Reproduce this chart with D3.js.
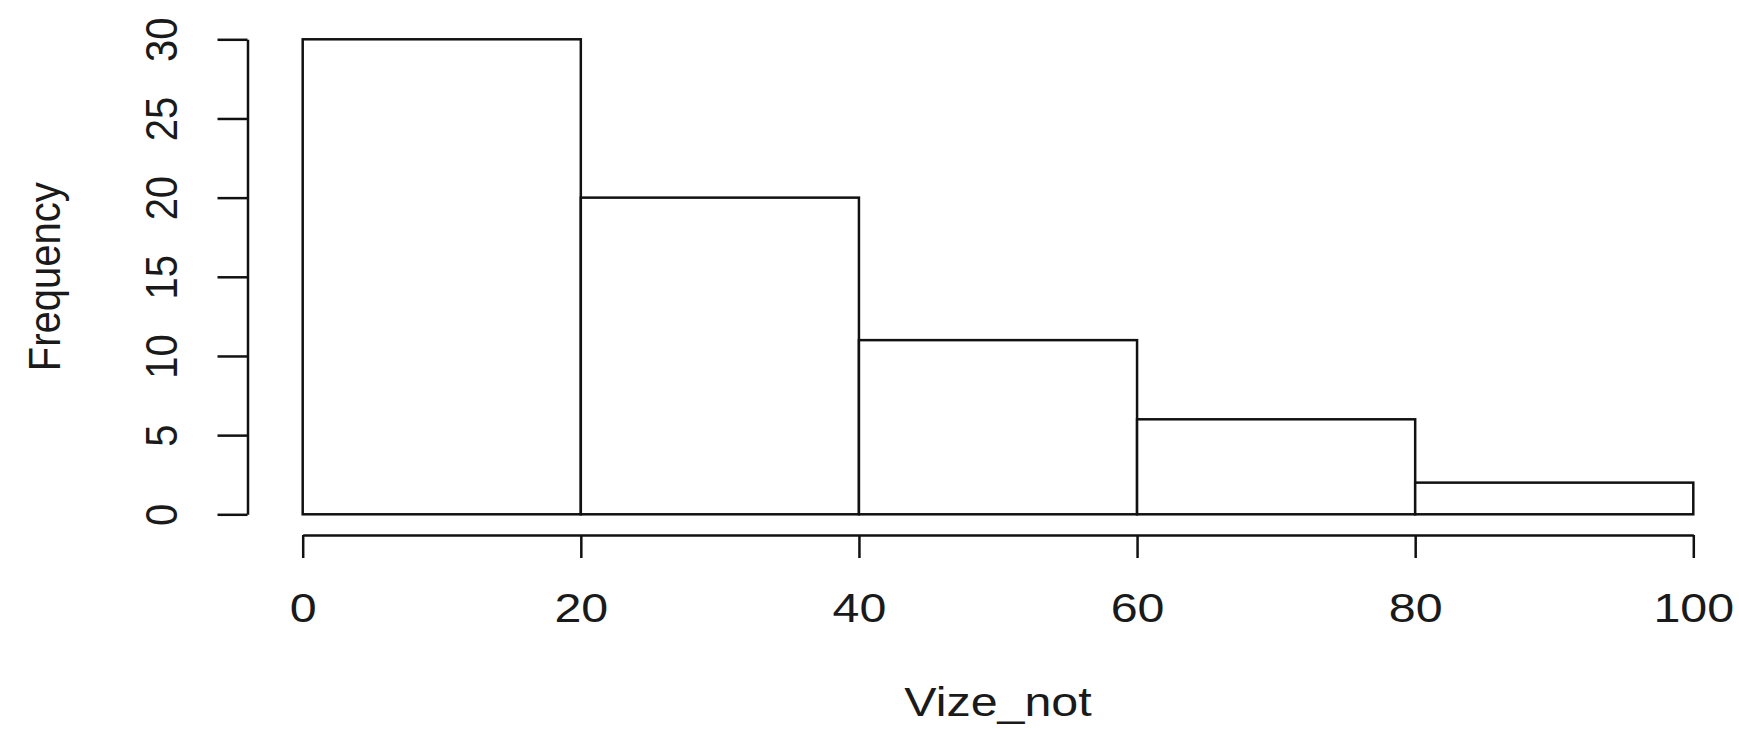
<!DOCTYPE html>
<html>
<head>
<meta charset="utf-8">
<script src="https://cdn.jsdelivr.net/npm/d3@7"></script>
<style>
  body { margin: 0; background: #fff; }
  text { font-family: "Liberation Sans", Arial, sans-serif; fill: #1a1a1a; }
</style>
</head>
<body>
<div id="area"></div>
<script>
// histogram of Vize_not
const binStarts = [0, 20, 40, 60, 80]
const binWidth = 20
const counts = [30, 20, 11, 6, 2]
const xTicks = [0, 20, 40, 60, 80, 100]
const yTicks = [0, 5, 10, 15, 20, 25, 30]

const W = 1739, H = 729
const sx = 1.18      // the picture is a bit wider than tall
const fs = 41

const svg = d3.select('#area')
  .append('svg')
  .attr('width', W)
  .attr('height', H)

const x = d3.scaleLinear()
  .domain([0, 100])
  .range([302.7, 1693.3])
const y = d3.scaleLinear()
  .domain([0, 30])
  .range([514.3, 39.3])

// bars
svg.selectAll('rect.bar')
  .data(binStarts)
  .enter()
  .append('rect')
  .attr('class', 'bar')
  .attr('x', d => x(d))
  .attr('y', (d, i) => y(counts[i]))
  .attr('width', d => x(d + binWidth) - x(d))
  .attr('height', (d, i) => y(0) - y(counts[i]))
  .attr('fill', '#fff')
  .attr('stroke', '#111')
  .attr('stroke-width', 2.5)

// x axis
const gx = svg.append('g')
  .attr('transform', 'translate(0,535)')
  .call(d3.axisBottom(x).tickValues(xTicks).tickSize(23).tickSizeOuter(0))
gx.select('.domain').attr('stroke', '#111').attr('stroke-width', 2.5)
gx.selectAll('.tick line').attr('stroke', '#111').attr('stroke-width', 2.5)
gx.selectAll('.tick text')
  .attr('y', 87)
  .attr('dy', 0)
  .attr('transform', `scale(${sx},1)`)
  .style('font-size', fs + 'px')
  .attr('fill', '#1a1a1a')

// y axis
const gy = svg.append('g')
  .attr('transform', 'translate(247.5,0)')
  .call(d3.axisLeft(y).tickValues(yTicks).tickSize(30).tickSizeOuter(0))
gy.select('.domain').attr('stroke', '#111').attr('stroke-width', 2.5)
gy.selectAll('.tick line').attr('stroke', '#111').attr('stroke-width', 2.5)
const rsx = 1.12
gy.selectAll('.tick text')
  .attr('x', 0)
  .attr('y', -70.5 / rsx)
  .attr('dy', 0)
  .attr('text-anchor', 'middle')
  .attr('transform', `scale(${rsx},1) rotate(-90)`)
  .style('font-size', '40px')
  .attr('fill', '#1a1a1a')

// axis titles
svg.append('g')
  .attr('transform', 'translate(998,716)')
  .append('text')
  .attr('text-anchor', 'middle')
  .attr('transform', `scale(${sx},1)`)
  .style('font-size', fs + 'px')
  .text('Vize_not')

svg.append('g')
  .attr('transform', 'translate(60,276.8)')
  .append('text')
  .attr('text-anchor', 'middle')
  .attr('transform', `scale(${rsx},1) rotate(-90)`)
  .style('font-size', '40px')
  .text('Frequency')
</script>
</body>
</html>
